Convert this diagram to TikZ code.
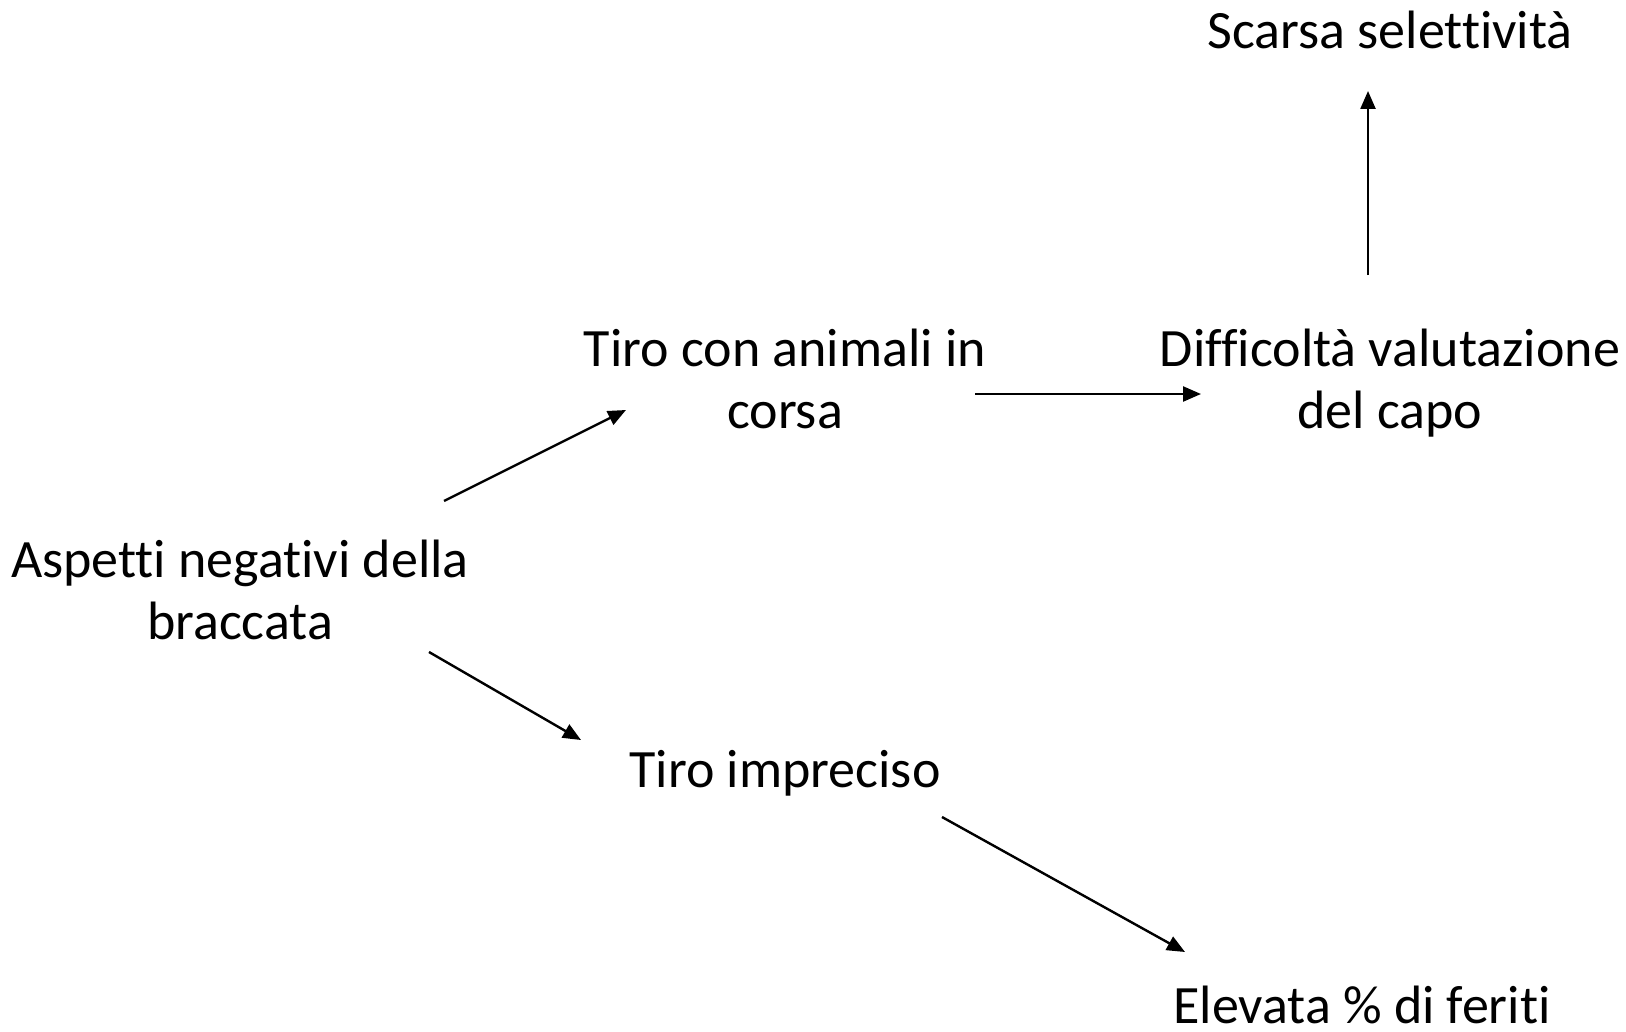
\documentclass[tikz,border=0pt]{standalone}
\usepackage{fontspec}
\setmainfont[Ligatures=NoCommon]{Carlito}
\usetikzlibrary{arrows.meta}
\begin{document}
\begin{tikzpicture}[x=0.5pt,y=-0.5pt,
  lbl/.style={align=center,inner sep=0pt,font=\fontsize{27}{31}\selectfont},
  conn/.style={line width=1.2pt,-{Triangle[length=9pt,width=7.5pt]}}]
\useasboundingbox (0,0) rectangle (1626,1032);
\node[lbl] (asp) at (240,590) {Aspetti negativi della\\braccata};
\node[lbl] (tca) at (785,379) {Tiro con animali in\\corsa};
\node[lbl] (dvc) at (1390,383) {Difficoltà valutazione\\del capo};
\node[lbl] (ssl) at (1390,30) {Scarsa selettività};
\node[lbl] (tim) at (785,773) {Tiro impreciso};
\node[lbl] (evf) at (1362,1005) {Elevata \% di feriti};
\coordinate (a1s) at (444,501);
\coordinate (a1e) at (626,410);
\coordinate (a2s) at (975,394);
\coordinate (a2e) at (1201,394);
\coordinate (a3s) at (1368,275);
\coordinate (a3e) at (1368,91);
\coordinate (a4s) at (429,652);
\coordinate (a4e) at (581,740);
\coordinate (a5s) at (942,817);
\coordinate (a5e) at (1185,952);
\draw[conn] (a1s) -- (a1e);
\draw[conn] (a2s) -- (a2e);
\draw[conn] (a3s) -- (a3e);
\draw[conn] (a4s) -- (a4e);
\draw[conn] (a5s) -- (a5e);
\end{tikzpicture}
\end{document}
